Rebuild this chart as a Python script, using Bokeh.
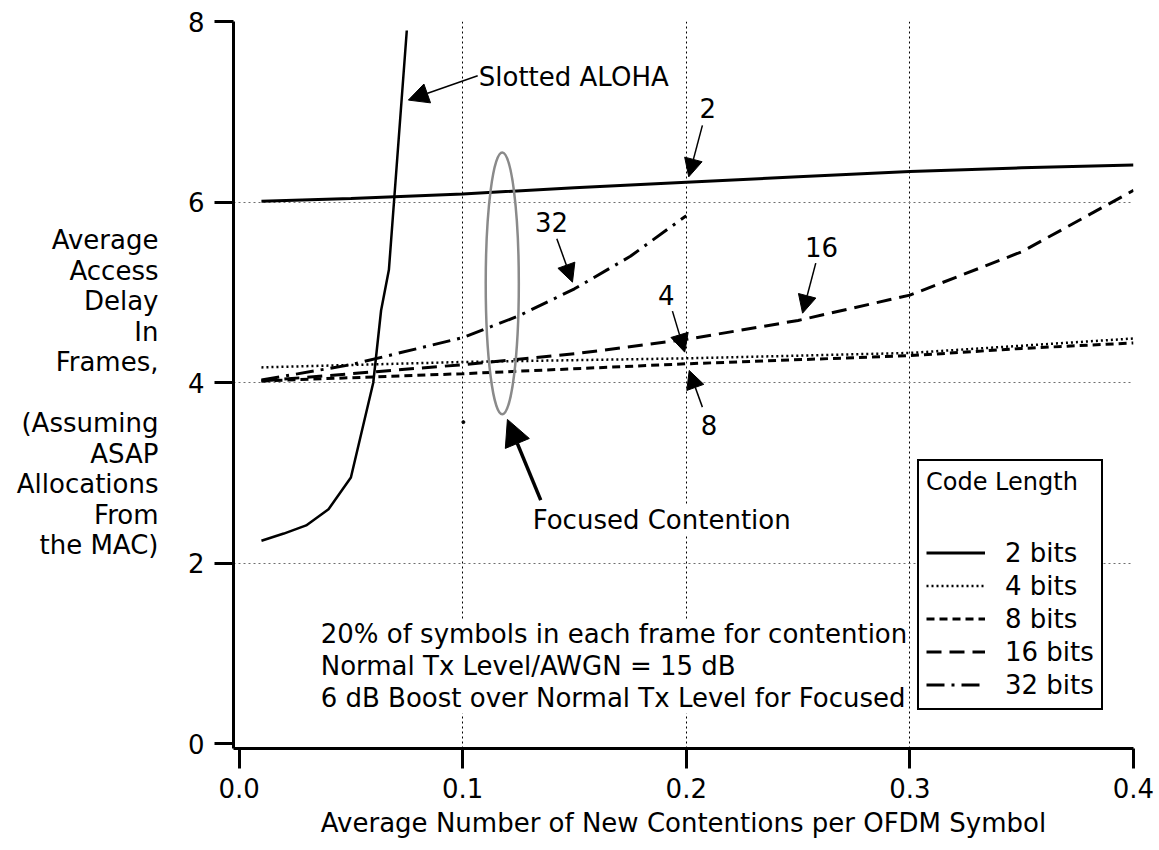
from bokeh.plotting import figure
from bokeh.models import (Range1d, FixedTicker, Label, Arrow, NormalHead, Legend,
                          LegendItem, LinearAxis)
from bokeh.embed import file_html
from bokeh.resources import INLINE

FONT = "DejaVu Sans"
FS = "26px"

# ---------------- data ----------------
x_ticks = [0.0, 0.1, 0.2, 0.3, 0.4]
x_tick_labels = ["0.0", "0.1", "0.2", "0.3", "0.4"]
y_ticks = [0, 2, 4, 6, 8]
y_tick_labels = ["0", "2", "4", "6", "8"]

aloha_x = [0.01, 0.02, 0.03, 0.04, 0.05, 0.06, 0.0635, 0.067, 0.075]
aloha_y = [2.25, 2.33, 2.42, 2.60, 2.95, 4.00, 4.80, 5.25, 7.90]

bits2_x = [0.01, 0.05, 0.10, 0.15, 0.20, 0.25, 0.30, 0.35, 0.40]
bits2_y = [6.01, 6.04, 6.09, 6.16, 6.22, 6.28, 6.34, 6.38, 6.41]

bits4_x = [0.01, 0.10, 0.20, 0.30, 0.35, 0.40]
bits4_y = [4.17, 4.23, 4.27, 4.33, 4.41, 4.49]

bits8_x = [0.01, 0.10, 0.20, 0.30, 0.35, 0.40]
bits8_y = [4.02, 4.10, 4.21, 4.30, 4.38, 4.44]

bits16_x = [0.01, 0.05, 0.10, 0.15, 0.20, 0.25, 0.30, 0.35, 0.40]
bits16_y = [4.02, 4.10, 4.20, 4.32, 4.48, 4.69, 4.97, 5.45, 6.13]

bits32_x = [0.01, 0.05, 0.10, 0.125, 0.15, 0.175, 0.20]
bits32_y = [4.03, 4.20, 4.50, 4.74, 5.04, 5.40, 5.85]

legend_labels = ["2 bits", "4 bits", "8 bits", "16 bits", "32 bits"]

y_title_lines = ["Average", "Access", "Delay", "In", "Frames,", "",
                 "(Assuming", "ASAP", "Allocations", "From", "the MAC)"]
note_lines = ["20% of symbols in each frame for contention",
              "Normal Tx Level/AWGN = 15 dB",
              "6 dB Boost over Normal Tx Level for Focused"]

# ---------------- figure ----------------
p = figure(width=1155, height=846,
           x_range=Range1d(-0.0025, 0.4), y_range=Range1d(-0.05, 8.0),
           output_backend="svg", toolbar_location=None,
           min_border_left=233, min_border_right=22,
           min_border_top=21, min_border_bottom=98)
p.outline_line_color = None
p.background_fill_color = "white"
p.border_fill_color = "white"

# axes
for ax in (p.xaxis[0], p.yaxis[0]):
    ax.axis_line_width = 3
    ax.axis_line_color = "black"
    ax.major_tick_line_width = 3
    ax.major_tick_line_color = "black"
    ax.major_tick_in = 0
    ax.minor_tick_line_color = None
    ax.major_label_text_font = FONT
    ax.major_label_text_font_size = FS
    ax.major_label_text_color = "black"

p.xaxis.ticker = FixedTicker(ticks=x_ticks)
p.xaxis.major_label_overrides = dict(zip(x_ticks, x_tick_labels))
p.xaxis.major_tick_out = 20
p.xaxis.major_label_standoff = 9
p.xaxis.axis_label = "Average Number of New Contentions per OFDM Symbol"
p.xaxis.axis_label_text_font = FONT
p.xaxis.axis_label_text_font_size = FS
p.xaxis.axis_label_text_font_style = "normal"
p.xaxis.axis_label_text_color = "black"
p.xaxis.axis_label_standoff = 7

p.yaxis.ticker = FixedTicker(ticks=y_ticks)
p.yaxis.major_label_overrides = dict(zip(y_ticks, y_tick_labels))
p.yaxis.major_tick_out = 19
p.yaxis.major_label_standoff = 10

# y-axis title: horizontal, right-aligned lines drawn as labels of an outer axis
title_pos, title_txt = [], []
for i, line in enumerate(y_title_lines):
    if line:
        title_pos.append(round((743.5 - (240.0 + i * 30.5)) / 90.3, 4))
        title_txt.append(line)
title_axis = LinearAxis(ticker=FixedTicker(ticks=title_pos),
                        major_label_overrides=dict(zip(title_pos, title_txt)))
title_axis.axis_line_color = None
title_axis.major_tick_line_color = None
title_axis.minor_tick_line_color = None
title_axis.major_tick_out = 0
title_axis.major_tick_in = 0
title_axis.major_label_standoff = 26
title_axis.major_label_text_font = FONT
title_axis.major_label_text_font_size = FS
title_axis.major_label_text_color = "black"
p.add_layout(title_axis, "left")

# grid
p.xgrid.ticker = FixedTicker(ticks=x_ticks[1:])
p.xgrid.grid_line_color = "black"
p.xgrid.grid_line_dash = "2 3"
p.xgrid.grid_line_width = 1
p.ygrid.ticker = FixedTicker(ticks=y_ticks[1:])
p.ygrid.grid_line_color = "#6e6e6e"
p.ygrid.grid_line_dash = "2 3"
p.ygrid.grid_line_width = 1

# ---------------- curves ----------------
p.line(aloha_x, aloha_y, line_width=2.5, line_color="black")
r2 = p.line(bits2_x, bits2_y, line_width=3, line_color="black")
r4 = p.line(bits4_x, bits4_y, line_width=2.5, line_color="black", line_dash="2 3")
r8 = p.line(bits8_x, bits8_y, line_width=3, line_color="black", line_dash="8 5")
r16 = p.line(bits16_x, bits16_y, line_width=3, line_color="black", line_dash="15 8")
r32 = p.line(bits32_x, bits32_y, line_width=3, line_color="black", line_dash="18 7 3 7")

# focused contention ellipse and stray dot
p.ellipse(x=[0.1177], y=[5.10], width=[0.0148], height=[2.90],
          fill_color=None, line_color="#8a8a8a", line_width=2.5)
p.scatter([0.1003], [3.564], size=3, color="black")

# ---------------- legend ----------------
legend = Legend(
    items=[LegendItem(label=lab, renderers=[r])
           for lab, r in zip(legend_labels, (r2, r4, r8, r16, r32))],
    location=(684, 38), title="Code Length",
    title_text_font=FONT, title_text_font_size="24px", title_text_font_style="normal",
    title_text_color="black", title_standoff=40,
    label_text_font=FONT, label_text_font_size=FS, label_text_color="black",
    glyph_width=59, glyph_height=33, label_height=33,
    label_standoff=20, spacing=0, padding=7, margin=0,
    border_line_color="black", border_line_width=2.5, border_line_alpha=1.0,
    background_fill_color="white", background_fill_alpha=1.0)
p.add_layout(legend)

# ---------------- annotations ----------------
def text(x, y, t, align="left", bg=None):
    p.add_layout(Label(x=x, y=y, text=t, text_align=align, text_baseline="middle",
                       text_font=FONT, text_font_size=FS, text_color="black",
                       background_fill_color=bg, background_fill_alpha=1.0 if bg else 0.0))

def arrow(x0, y0, x1, y1, lw=1.5, size=18):
    p.add_layout(Arrow(end=NormalHead(size=size, fill_color="black", line_color="black", line_width=1),
                       x_start=x0, y_start=y0, x_end=x1, y_end=y1,
                       line_width=lw, line_color="black"))

text(0.1072, 7.38, "Slotted ALOHA")
arrow(0.1067, 7.40, 0.0757, 7.13, lw=1.5, size=20)

text(0.2096, 7.04, "2", align="center")
arrow(0.2072, 6.85, 0.2011, 6.28)

text(0.1397, 5.78, "32", align="center")
arrow(0.1421, 5.595, 0.1491, 5.114)

text(0.2605, 5.50, "16", align="center")
arrow(0.2579, 5.324, 0.2520, 4.77)

text(0.1911, 4.967, "4", align="center")
arrow(0.1938, 4.793, 0.1993, 4.339)

text(0.2102, 3.527, "8", align="center")
arrow(0.2072, 3.73, 0.2013, 4.136)

text(0.1313, 2.475, "Focused Contention", bg="white")
arrow(0.1349, 2.70, 0.1200, 3.594, lw=3.5, size=26)

# note block
p.add_layout(Label(x=0.0365, y=0.861, text="\n".join(note_lines), text_align="left",
                   text_baseline="middle", text_line_height=1.075,
                   text_font=FONT, text_font_size=FS, text_color="black",
                   background_fill_color="white", background_fill_alpha=1.0))

open("out.html", "w").write(file_html(p, INLINE))
